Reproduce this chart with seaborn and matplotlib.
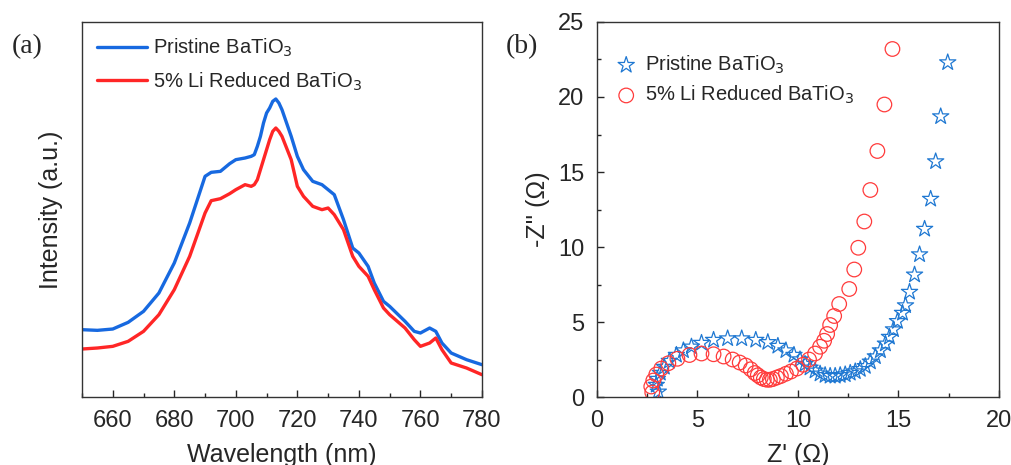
import numpy as np
import pandas as pd
import matplotlib
matplotlib.use('Agg')
import matplotlib.pyplot as plt
from matplotlib.ticker import MultipleLocator
import seaborn as sns

# (a) PL spectra (arbitrary units)
wavelength = [650, 655, 660, 665, 670, 675, 680, 685, 690, 692, 695, 698, 700, 703, 705,
              706, 707, 708, 709, 710, 711, 712, 713, 714, 715, 718, 720, 722, 725, 728,
              730, 732, 735, 738, 740, 743, 745, 748, 750, 755, 758, 760, 763, 765, 767,
              770, 775, 780]
pristine_pl = [202, 200, 204, 224, 257, 312, 402, 522, 662, 674, 677, 700, 712, 717, 722,
               727, 752, 782, 822, 852, 867, 887, 894, 882, 862, 782, 722, 682, 647, 637,
               622, 607, 532, 447, 432, 392, 342, 287, 272, 227, 197, 192, 207, 197, 162,
               132, 112, 97]
reduced_pl = [144, 147, 152, 167, 197, 247, 322, 422, 552, 589, 595, 610, 622, 637, 632,
              637, 652, 682, 712, 742, 772, 797, 807, 797, 782, 712, 632, 602, 572, 562,
              567, 547, 502, 422, 392, 362, 322, 267, 247, 207, 172, 152, 162, 177, 142,
              102, 87, 67]

# (b) Nyquist plots
pristine_zre = [3.05, 2.95, 3.0, 3.15, 3.35, 3.6, 3.95, 4.3, 4.7, 5.2, 5.8, 6.5, 7.2, 7.9,
                8.5, 9.0, 9.4, 9.8, 10.1, 10.35, 10.6, 10.85, 11.1, 11.35, 11.6, 11.85,
                12.1, 12.35, 12.6, 12.85, 13.1, 13.35, 13.6, 13.85, 14.1, 14.35, 14.55,
                14.75, 14.95, 15.2, 15.35, 15.55, 15.8, 16.05, 16.3, 16.6, 16.85, 17.1, 17.45]
pristine_zim = [0.35, 0.8, 1.2, 1.6, 2.0, 2.4, 2.8, 3.1, 3.35, 3.6, 3.8, 3.9, 3.9, 3.8,
                3.65, 3.4, 3.1, 2.8, 2.5, 2.2, 1.95, 1.75, 1.55, 1.45, 1.4, 1.4,
                1.45, 1.5, 1.6, 1.7, 1.85, 2.05, 2.35, 2.7, 3.1, 3.55, 4.0,
                4.5, 5.05, 5.6, 6.1, 7.0, 8.15, 9.5, 11.2, 13.2, 15.7, 18.7, 22.3]
reduced_zre = [2.75, 2.7, 2.8, 2.95, 3.2, 3.55, 4.0, 4.6, 5.2, 5.8, 6.3, 6.75, 7.1, 7.4,
               7.65, 7.85, 8.0, 8.15, 8.3, 8.45, 8.6, 8.75, 8.95, 9.15, 9.4, 9.65, 9.95,
               10.25, 10.55, 10.85, 11.1, 11.3, 11.45, 11.6, 11.8, 12.05, 12.55, 12.8,
               13.0, 13.3, 13.6, 13.95, 14.3, 14.7]
reduced_zim = [0.3, 0.7, 1.1, 1.5, 1.9, 2.25, 2.55, 2.8, 2.9, 2.85, 2.7, 2.5, 2.3, 2.1,
               1.85, 1.6, 1.45, 1.3, 1.2, 1.15, 1.15, 1.2, 1.3, 1.4, 1.55, 1.7, 1.9,
               2.15, 2.5, 2.9, 3.35, 3.75, 4.2, 4.8, 5.4, 6.2, 7.2, 8.5,
               9.95, 11.7, 13.8, 16.4, 19.5, 23.2]

sns.set_style('ticks')
plt.rcParams['font.family'] = ['Liberation Sans', 'DejaVu Sans']
plt.rcParams['xtick.direction'] = 'in'
plt.rcParams['ytick.direction'] = 'in'

blue_line = '#1769e0'
red_line = '#ff2626'
blue_mk = '#1f78d2'
red_mk = '#ff3b3b'

fig = plt.figure(figsize=(10.11, 4.65), dpi=100)
ax1 = fig.add_axes([0.0811, 0.1462, 0.3956, 0.8065])
ax2 = fig.add_axes([0.5905, 0.1462, 0.3976, 0.8065])

# Grafico (a)
pl = pd.DataFrame({'wl': wavelength, 'p': pristine_pl, 'r': reduced_pl})
sns.lineplot(data=pl, x='wl', y='p', ax=ax1, color=blue_line, lw=2.4,
             label='Pristine BaTiO$_3$')
sns.lineplot(data=pl, x='wl', y='r', ax=ax1, color=red_line, lw=2.4,
             label='5% Li Reduced BaTiO$_3$')
ax1.set_xlim(650, 780)
ax1.set_ylim(0, 1125)
ax1.set_yticks([])
ax1.xaxis.set_major_locator(MultipleLocator(20))
ax1.xaxis.set_minor_locator(MultipleLocator(10))
ax1.tick_params(axis='x', which='major', length=5, width=1, labelsize=17, pad=9)
ax1.tick_params(axis='x', which='minor', length=3, width=1)
ax1.set_xlabel('Wavelength (nm)', fontsize=18, labelpad=8)
ax1.set_ylabel('Intensity (a.u.)', fontsize=18, labelpad=14)
ax1.legend(loc='upper left', frameon=False, fontsize=14.5, handlelength=2.5,
           handletextpad=0.3, borderaxespad=0.35, labelspacing=0.55)

# Grafico (b)
ny_p = pd.DataFrame({'zre': pristine_zre, 'zim': pristine_zim})
ny_r = pd.DataFrame({'zre': reduced_zre, 'zim': reduced_zim})
sns.scatterplot(data=ny_p, x='zre', y='zim', ax=ax2, marker='*', s=150,
                facecolors='none', edgecolor=blue_mk, linewidth=0.9,
                label='Pristine BaTiO$_3$')
sns.scatterplot(data=ny_r, x='zre', y='zim', ax=ax2, marker='o', s=110,
                facecolors='none', edgecolor=red_mk, linewidth=0.9,
                label='5% Li Reduced BaTiO$_3$')
ax2.set_xlim(0, 20)
ax2.set_ylim(0, 25)
ax2.xaxis.set_major_locator(MultipleLocator(5))
ax2.xaxis.set_minor_locator(MultipleLocator(2.5))
ax2.yaxis.set_major_locator(MultipleLocator(5))
ax2.yaxis.set_minor_locator(MultipleLocator(2.5))
ax2.tick_params(which='major', length=5, width=1, labelsize=17, pad=9)
ax2.tick_params(which='minor', length=3, width=1)
ax2.set_xlabel("Z' (Ω)", fontsize=18, labelpad=8)
ax2.set_ylabel("-Z'' (Ω)", fontsize=18, labelpad=6)
ax2.legend(loc='upper left', bbox_to_anchor=(-0.01, 0.97), frameon=False,
           fontsize=14.5, handlelength=1.3, handletextpad=0.3,
           borderaxespad=0.6, labelspacing=0.4)

for ax in (ax1, ax2):
    for sp in ax.spines.values():
        sp.set_linewidth(1.0)
        sp.set_color('#333333')

fig.text(0.012, 0.885, '(a)', fontsize=20, family='Liberation Serif')
fig.text(0.5, 0.885, '(b)', fontsize=20, family='Liberation Serif')

fig.savefig('out.png', dpi=100)
